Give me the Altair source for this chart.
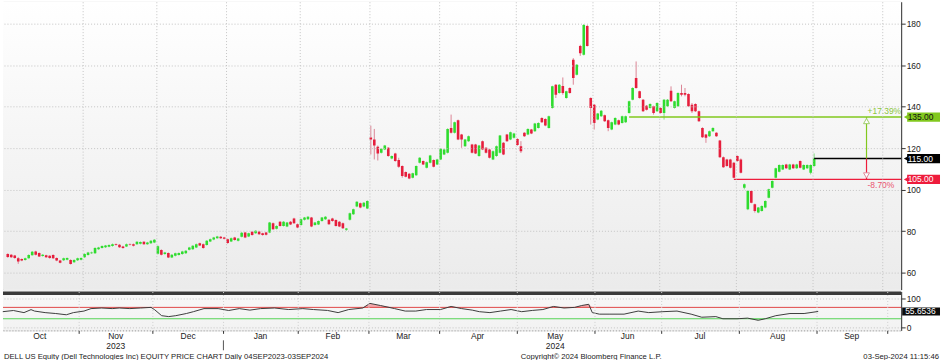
import altair as alt
import pandas as pd

# ---------------- data ----------------
open_ = [69.0, 68.7, 68.3, 67.0, 66.6, 66.2, 67.0, 68.5, 70.3, 69.5,
         68.1, 68.4, 68.2, 68.6, 67.1, 65.9, 66.0, 66.3, 66.2, 65.1,
         66.0, 66.3, 67.5, 68.6, 69.4, 69.4, 71.4, 72.0, 72.3, 72.6,
         72.9, 73.8, 73.5, 72.7, 72.7, 73.8, 73.8, 73.8, 74.0, 74.9,
         73.8, 74.2, 74.6, 69.2, 71.0, 69.0, 69.5, 67.4, 68.2, 68.6,
         69.0, 69.4, 71.1, 71.4, 72.2, 74.2, 73.8, 73.4, 75.1, 76.0,
         76.7, 77.4, 77.0, 76.2, 75.1, 77.0, 75.4, 77.4, 79.4, 77.5,
         79.8, 79.1, 79.9, 79.0, 79.4, 79.4, 83.9, 81.2, 84.6, 82.6,
         82.3, 84.6, 86.2, 83.4, 83.0, 85.5, 85.8, 86.6, 83.0, 83.3,
         84.9, 85.8, 85.5, 86.2, 85.4, 84.6, 83.9, 80.7, 85.5, 88.2,
         91.9, 93.5, 91.9, 91.0, 125.2, 124.2, 120.7, 117.8, 119.4, 120.2,
         115.0, 117.5, 114.3, 111.4, 108.5, 107.7, 105.8, 107.0, 113.0, 113.8,
         110.6, 113.0, 114.3, 112.2, 114.6, 117.0, 117.8, 129.8, 127.4, 133.5,
         126.6, 121.0, 123.4, 121.8, 121.8, 116.2, 123.4, 120.2, 119.4, 114.6,
         116.2, 117.8, 122.6, 126.6, 124.2, 125.0, 124.5, 121.0, 127.4, 126.6,
         129.0, 128.2, 129.8, 134.6, 134.1, 129.8, 139.4, 150.6, 146.6, 150.0,
         144.2, 149.0, 162.6, 155.4, 169.3, 165.0, 178.9, 144.2, 141.0, 133.8,
         135.4, 135.9, 133.5, 129.0, 131.4, 133.5, 132.2, 132.5, 137.0, 143.4,
         153.8, 147.4, 143.4, 140.5, 139.4, 140.2, 137.8, 139.4, 137.0, 140.2,
         147.7, 139.4, 140.2, 146.6, 146.6, 146.1, 141.0, 141.3, 137.8, 129.8,
         126.6, 125.8, 128.2, 127.4, 123.7, 115.7, 114.6, 114.6, 113.0, 116.2,
         114.6, 101.0, 90.6, 99.4, 93.0, 89.0, 89.8, 91.4, 96.2, 101.0,
         105.8, 108.7, 109.8, 112.2, 109.8, 112.2, 110.3, 113.8, 109.8, 110.3,
         108.2, 111.4]
close = [67.6, 67.5, 67.1, 65.5, 65.9, 67.0, 68.6, 70.2, 68.7, 67.9,
         68.7, 67.5, 67.1, 67.0, 65.9, 64.9, 67.0, 67.1, 64.3, 66.2,
         67.0, 67.1, 69.1, 69.8, 69.8, 72.0, 72.2, 72.9, 73.1, 73.4,
         73.8, 73.4, 72.3, 71.9, 73.8, 73.5, 73.0, 74.9, 74.8, 73.8,
         74.6, 75.4, 75.9, 72.8, 68.7, 69.8, 67.4, 68.7, 69.4, 69.5,
         70.3, 70.6, 72.2, 73.0, 73.8, 73.2, 71.9, 75.4, 76.2, 77.0,
         77.5, 76.6, 76.4, 74.3, 76.7, 75.8, 76.5, 79.3, 77.0, 79.0,
         78.2, 80.2, 78.6, 78.2, 78.3, 84.2, 81.0, 82.6, 82.6, 84.6,
         84.2, 83.3, 83.9, 81.8, 85.8, 86.6, 87.0, 82.3, 84.2, 84.9,
         86.6, 87.0, 83.4, 84.9, 82.6, 82.3, 81.4, 81.3, 88.7, 90.6,
         94.2, 91.4, 93.8, 94.6, 124.2, 121.3, 117.5, 119.7, 121.3, 116.2,
         116.2, 113.8, 111.1, 106.6, 106.3, 105.4, 107.9, 111.4, 115.4, 112.2,
         113.3, 116.5, 111.1, 114.6, 119.7, 119.4, 129.3, 127.4, 132.5, 124.2,
         124.2, 124.2, 125.8, 117.8, 117.5, 121.3, 119.4, 117.8, 115.4, 118.6,
         121.0, 126.1, 117.0, 123.4, 127.7, 127.1, 121.5, 118.5, 125.8, 129.3,
         127.1, 131.9, 132.2, 132.5, 130.9, 135.4, 149.8, 145.8, 150.6, 146.6,
         147.4, 146.6, 153.8, 160.2, 165.8, 179.4, 169.3, 139.4, 132.2, 136.7,
         138.1, 133.0, 129.8, 132.5, 134.6, 131.4, 135.4, 135.4, 142.6, 149.0,
         149.0, 144.2, 137.8, 138.5, 141.3, 137.0, 141.8, 137.0, 143.4, 143.4,
         142.6, 142.6, 146.6, 145.8, 145.8, 140.2, 137.8, 137.8, 133.0, 125.3,
         125.0, 128.2, 129.8, 125.8, 115.7, 110.9, 111.4, 110.6, 105.8, 113.8,
         108.2, 102.6, 99.4, 93.8, 89.8, 91.4, 92.2, 94.6, 100.2, 104.2,
         110.3, 111.9, 111.9, 110.3, 112.2, 110.3, 112.2, 110.6, 111.9, 111.9,
         111.9, 115.0]
high = [69.4, 69.0, 68.6, 67.5, 66.9, 67.3, 68.9, 70.5, 70.6, 69.8,
        69.0, 68.7, 68.5, 68.9, 67.4, 66.2, 67.3, 67.4, 66.5, 66.5,
        67.3, 67.4, 69.4, 70.1, 70.2, 72.3, 72.5, 73.2, 73.4, 73.7,
        74.1, 74.1, 73.8, 73.0, 74.1, 74.1, 74.1, 75.2, 75.1, 75.2,
        74.9, 75.7, 76.2, 73.2, 71.3, 70.1, 69.8, 69.0, 69.7, 69.8,
        70.6, 70.9, 72.5, 73.3, 74.1, 74.5, 74.1, 75.7, 76.5, 77.3,
        77.8, 77.7, 77.3, 76.5, 77.0, 77.3, 76.8, 79.6, 79.7, 79.3,
        80.1, 80.5, 80.2, 79.3, 79.7, 84.5, 84.2, 82.9, 84.9, 84.9,
        84.5, 84.9, 86.5, 83.7, 86.1, 86.9, 87.3, 86.9, 84.5, 85.2,
        86.9, 87.3, 85.8, 86.5, 85.7, 84.9, 84.2, 81.6, 89.0, 90.9,
        94.5, 93.8, 94.1, 94.9, 130.9, 129.3, 121.3, 120.0, 121.6, 120.5,
        116.5, 117.8, 115.4, 111.7, 108.8, 108.0, 108.2, 111.7, 115.7, 114.1,
        113.6, 116.8, 114.6, 114.9, 120.0, 119.7, 129.6, 136.2, 132.8, 133.8,
        126.9, 124.5, 126.1, 122.1, 122.1, 121.6, 123.7, 120.5, 119.7, 118.9,
        121.3, 126.4, 122.9, 126.9, 128.0, 127.4, 124.8, 123.4, 127.7, 129.6,
        129.3, 132.2, 132.5, 134.9, 134.4, 135.7, 150.1, 150.9, 150.9, 154.1,
        147.7, 149.3, 163.4, 160.5, 169.8, 179.8, 179.4, 144.5, 141.3, 137.0,
        138.4, 136.2, 133.8, 132.8, 134.9, 133.8, 135.7, 135.7, 142.9, 149.3,
        161.8, 147.7, 143.7, 140.8, 141.6, 140.5, 142.1, 139.7, 143.7, 143.7,
        149.8, 142.9, 146.9, 150.6, 149.0, 146.4, 141.8, 141.6, 138.1, 130.1,
        126.9, 128.5, 130.1, 127.7, 124.0, 116.0, 114.9, 114.9, 113.3, 116.5,
        115.1, 103.0, 99.8, 99.7, 93.3, 91.7, 92.5, 94.9, 100.5, 104.5,
        110.6, 112.2, 112.2, 112.5, 112.5, 112.5, 112.5, 114.1, 112.2, 112.2,
        112.2, 117.5]
low = [67.2, 67.2, 66.8, 64.3, 65.6, 65.9, 66.8, 68.3, 68.4, 67.6,
       67.8, 67.2, 66.8, 66.7, 65.6, 64.6, 65.7, 66.0, 64.0, 64.8,
       65.7, 66.0, 67.2, 68.3, 69.1, 69.1, 71.1, 71.7, 72.0, 72.3,
       72.6, 73.1, 72.0, 71.6, 72.4, 73.2, 72.7, 73.5, 73.7, 73.5,
       73.5, 73.9, 74.3, 68.8, 68.4, 68.7, 67.1, 67.1, 67.9, 68.3,
       68.7, 69.1, 70.8, 71.1, 71.9, 72.9, 71.6, 73.1, 74.8, 75.7,
       76.4, 76.3, 76.1, 74.0, 74.8, 75.5, 75.1, 77.1, 76.7, 77.2,
       77.9, 78.8, 78.3, 77.9, 78.0, 79.1, 80.7, 80.9, 82.3, 82.3,
       82.0, 83.0, 83.6, 81.5, 82.7, 85.2, 85.5, 82.0, 82.7, 83.0,
       84.6, 85.5, 83.1, 84.6, 82.3, 82.0, 81.1, 80.2, 85.2, 87.9,
       91.6, 91.1, 91.6, 90.7, 117.0, 114.6, 114.1, 117.5, 119.1, 115.9,
       114.7, 113.5, 110.6, 105.8, 106.0, 105.1, 105.5, 106.7, 112.7, 111.9,
       110.3, 112.7, 110.8, 111.9, 114.3, 116.7, 117.5, 127.1, 127.1, 123.9,
       120.2, 120.7, 123.1, 117.5, 117.2, 115.9, 119.1, 117.5, 115.1, 114.3,
       115.9, 117.5, 116.7, 123.1, 123.9, 124.7, 121.2, 117.7, 125.5, 126.3,
       126.8, 127.9, 129.5, 132.2, 130.6, 129.5, 139.1, 144.2, 146.3, 145.8,
       143.9, 146.3, 150.6, 155.1, 164.5, 164.7, 169.0, 131.4, 129.0, 133.5,
       135.1, 132.7, 128.2, 128.7, 131.1, 131.1, 131.9, 132.2, 136.7, 143.1,
       148.7, 143.9, 137.5, 138.2, 139.1, 136.2, 137.5, 136.7, 133.8, 139.9,
       142.3, 139.1, 139.9, 145.0, 145.0, 139.9, 137.0, 137.5, 132.7, 125.0,
       122.6, 125.5, 127.9, 125.5, 115.4, 110.6, 111.1, 110.3, 105.5, 113.5,
       107.9, 100.2, 90.2, 93.5, 89.0, 88.7, 89.5, 91.1, 95.9, 100.7,
       105.5, 108.4, 109.5, 110.0, 109.5, 110.0, 110.0, 110.3, 109.5, 110.0,
       107.4, 111.1]

rsi_day = [0, 3, 6, 8, 9, 12, 15, 18, 20, 23, 25, 28, 31, 33, 36, 39, 42, 43,
           45, 47, 49, 52, 54, 57, 61, 64, 67, 70, 73, 77, 81, 85, 88, 92, 95,
           98, 102, 104, 107, 111, 114, 117, 120, 124, 127, 130, 133, 135, 138,
           141, 144, 147, 150, 153, 156, 159, 162, 164, 166, 167, 169, 172, 176,
           180, 183, 187, 191, 195, 198, 202, 204, 208, 211, 214, 216, 219, 223,
           227, 231]
rsi_val = [54.9, 59.0, 51.6, 62.0, 57.0, 51.6, 48.4, 44.0, 51.6, 57.0, 65.7,
           67.8, 65.7, 67.8, 65.7, 67.8, 70.0, 62.0, 40.8, 37.6, 40.8, 48.4,
           54.9, 65.7, 65.7, 59.0, 65.7, 60.3, 65.7, 67.8, 62.4, 65.7, 62.4,
           59.2, 51.6, 62.4, 67.8, 84.0, 76.5, 65.7, 57.0, 57.0, 62.4, 62.4,
           73.2, 65.7, 60.3, 54.9, 51.6, 57.0, 62.4, 54.9, 59.2, 62.4, 73.2,
           67.8, 70.0, 76.5, 80.8, 51.6, 46.2, 46.2, 46.2, 57.0, 51.6, 54.9,
           57.0, 46.2, 35.4, 37.6, 30.0, 30.0, 32.2, 24.6, 30.0, 40.8, 48.4,
           48.4, 55.6536]

month_names = ["Oct", "Nov", "Dec", "Jan", "Feb", "Mar", "Apr", "May", "Jun", "Jul", "Aug", "Sep"]
month_first_day = [0, 22, 43, 63, 84, 104, 124, 146, 168, 187, 209, 231]
month_days = [22, 21, 20, 21, 20, 20, 22, 22, 19, 22, 22, 20]
year_names = ["2023", "2024"]
year_months = ["Nov", "May"]
price_ticks = [60, 80, 100, 120, 140, 160, 180]
rsi_ticks = [0, 100]
rsi_bands = [70, 30]

level_values = [135.0, 115.0, 105.0]
level_labels = ["135.00", "115.00", "105.00"]
level_kinds = ["up", "last", "down"]
level_start_day = [178, 231, 208]
pct_labels = ["+17.39%", "-8.70%"]
arrow_day = 246
last_rsi = 55.6536
last_rsi_label = "55.6536"

footer_left = "DELL US Equity (Dell Technologies Inc) EQUITY PRICE CHART  Daily 04SEP2023-03SEP2024"
footer_mid = "Copyright\u00a9 2024 Bloomberg Finance L.P."
footer_right = "03-Sep-2024 11:15:46"

# ---------------- tables ----------------
candles = pd.DataFrame({"day": list(range(len(close))), "open": open_, "high": high,
                        "low": low, "close": close})
months = pd.DataFrame({"name": month_names, "first": month_first_day, "days": month_days})
months["mid"] = months["first"] + (months["days"] - 1) / 2.0
edges = [f - 0.5 for f in month_first_day[1:]] + [month_first_day[-1] + month_days[-1] - 0.5]
years = months[months["name"].isin(year_months)].copy()
years["year"] = year_names
jan_edge = month_first_day[month_names.index("Jan")] - 0.5
levels = pd.DataFrame({"value": level_values, "label": level_labels,
                       "kind": level_kinds, "start": level_start_day})
levels["top"] = levels["value"] + 2.2
levels["bot"] = levels["value"] - 2.2
rsi_df = pd.DataFrame({"day": rsi_day, "rsi": rsi_val})

# ---------------- styling ----------------
W, H1, H2 = 902, 289, 39
FONT = "Liberation Sans"
UP, DN = "#2fdc2f", "#e61e3c"
UPW, DNW = "#86de86", "#dc8595"
xs = alt.Scale(domain=[0.0564, 254.5], nice=False, zero=False)
ys = alt.Scale(domain=[51.94, 190.55], nice=False, zero=False)
rys = alt.Scale(domain=[-10.8, 125.7], nice=False, zero=False)
lvl_color = alt.Scale(domain=["up", "last", "down"], range=["#82c81e", "#000000", "#ee1c3c"])

one = pd.DataFrame({"k": [0]})


def bg_rect(h, top, bottom):
    return alt.Chart(one).mark_rect(
        color=alt.Gradient(gradient="linear",
                           stops=[alt.GradientStop(color=top, offset=0),
                                  alt.GradientStop(color=bottom, offset=1)],
                           x1=0, x2=0, y1=0, y2=1)
    ).encode(x=alt.value(0), x2=alt.value(W), y=alt.value(0), y2=alt.value(h))


x_axis_price = alt.Axis(values=edges, grid=True, gridDash=[1, 2], gridColor="#c4c4c4",
                        labels=False, ticks=False, domain=False, title=None, zindex=1)
y_axis_price = alt.Axis(orient="right", values=price_ticks, grid=True, gridDash=[1, 2],
                        gridColor="#c4c4c4", tickSize=4, tickColor="#333333",
                        domainColor="#333333", labelFont=FONT, labelFontSize=8.5,
                        labelColor="#222222", labelPadding=1, title=None, zindex=1)

cond = "datum.close >= datum.open"
wicks = alt.Chart(candles).mark_rule(strokeWidth=1, clip=True).encode(
    x=alt.X("day:Q", scale=xs, axis=x_axis_price),
    y=alt.Y("low:Q", scale=ys, axis=y_axis_price),
    y2="high:Q",
    color=alt.condition(cond, alt.value(UPW), alt.value(DNW)),
)
bodies = alt.Chart(candles).mark_bar(size=2.6, clip=True).encode(
    x="day:Q", y="open:Q", y2="close:Q",
    color=alt.condition(cond, alt.value(UP), alt.value(DN)),
)
level_lines = alt.Chart(levels).mark_rule(strokeWidth=1.5).encode(
    x="start:Q", x2=alt.value(W), y="value:Q",
    color=alt.Color("kind:N", scale=lvl_color, legend=None),
)
level_boxes = alt.Chart(levels).mark_rect().encode(
    x=alt.value(W + 6), x2=alt.value(W + 39), y="top:Q", y2="bot:Q",
    color=alt.Color("kind:N", scale=lvl_color, legend=None),
)
level_ptr = alt.Chart(levels).mark_point(shape="triangle-left", filled=True, size=28, opacity=1).encode(
    x=alt.value(W + 5), y="value:Q",
    color=alt.Color("kind:N", scale=lvl_color, legend=None),
)
level_text = alt.Chart(levels).mark_text(align="left", baseline="middle", font=FONT,
                                         fontSize=8.5).encode(
    x=alt.value(W + 6.5), y="value:Q", text="label:N",
    color=alt.condition(alt.datum.kind == "up", alt.value("#111111"), alt.value("#ffffff")),
)

arrow = pd.DataFrame({"day": [arrow_day, arrow_day], "from": [level_values[1]] * 2,
                      "to": [level_values[0], level_values[2]], "dir": ["up", "down"],
                      "pct": pct_labels})
arr_col = alt.Scale(domain=["up", "down"], range=["#b2d98a", "#e6a1ae"])
arrow_line = alt.Chart(arrow).mark_rule(strokeWidth=1.2).encode(
    x="day:Q", y="from:Q", y2="to:Q",
    color=alt.Color("dir:N", scale=arr_col, legend=None))
arrow_up = alt.Chart(arrow[arrow["dir"] == "up"]).mark_point(
    shape="triangle-up", filled=True, fill="#ffffff", stroke="#9fce6c", strokeWidth=1,
    size=36, yOffset=4, opacity=1).encode(x="day:Q", y="to:Q")
arrow_dn = alt.Chart(arrow[arrow["dir"] == "down"]).mark_point(
    shape="triangle-down", filled=True, fill="#ffffff", stroke="#e08a9a", strokeWidth=1,
    size=36, yOffset=-4, opacity=1).encode(x="day:Q", y="to:Q")
pct_up = alt.Chart(arrow[arrow["dir"] == "up"]).mark_text(
    align="left", baseline="bottom", font=FONT, fontSize=8.5, color="#8dc63f", dx=1, dy=-1
).encode(x="day:Q", y="to:Q", text="pct:N")
pct_dn = alt.Chart(arrow[arrow["dir"] == "down"]).mark_text(
    align="left", baseline="top", font=FONT, fontSize=8.5, color="#ea5470", dx=1, dy=2
).encode(x="day:Q", y="to:Q", text="pct:N")

price = alt.layer(
    bg_rect(H1, "#ffffff", "#ebebeb"), wicks, bodies, level_lines, arrow_line, arrow_up, arrow_dn,
    pct_up, pct_dn, level_boxes, level_ptr, level_text
).properties(width=W, height=H1)

# ---------------- RSI panel ----------------
x_axis_rsi = alt.Axis(values=edges, grid=True, gridDash=[1, 2], gridColor="#cfcfcf",
                      labels=False, ticks=True, tickSize=3, tickColor="#333333",
                      domain=True, domainDash=[1, 2], domainColor="#9a9a9a",
                      title=None, zindex=1)
y_axis_rsi = alt.Axis(orient="right", values=rsi_ticks, grid=True, gridDash=[1, 2],
                      gridColor="#c4c4c4", tickSize=4, tickColor="#333333",
                      domainColor="#333333", labelFont=FONT, labelFontSize=8.5,
                      labelColor="#222222", labelPadding=1, title=None, zindex=1)

rsi_bg = bg_rect(H2, "#f8f8f8", "#f2f2f2")
sep = alt.Chart(one).mark_rule(strokeWidth=3.5, color="#3a3a3a").encode(
    x=alt.value(0), x2=alt.value(W), y=alt.value(1.75))
ob_fill = alt.Chart(rsi_df).transform_calculate(hi="max(datum.rsi, 70)").mark_area(
    color="#f3a9ad").encode(
    x=alt.X("day:Q", scale=xs, axis=x_axis_rsi),
    y=alt.Y("hi:Q", scale=rys, axis=y_axis_rsi), y2=alt.datum(70))
os_fill = alt.Chart(rsi_df).transform_calculate(lo="min(datum.rsi, 30)").mark_area(
    color="#a6e6a6").encode(x="day:Q", y="lo:Q", y2=alt.datum(30))
bands = alt.Chart(pd.DataFrame({"v": rsi_bands})).mark_rule(strokeWidth=1).encode(
    x=alt.value(0), x2=alt.value(W), y="v:Q",
    color=alt.condition(alt.datum.v > 50, alt.value("#e04848"), alt.value("#55d455")))
rsi_line = alt.Chart(rsi_df).mark_line(color="#3c3c3c", strokeWidth=1).encode(
    x="day:Q", y="rsi:Q")
rsi_box = alt.Chart(pd.DataFrame({"v": [last_rsi], "t": [last_rsi_label]}))
rsi_box_rect = rsi_box.transform_calculate(a="datum.v + 14", b="datum.v - 14").mark_rect(
    color="#0b0b0b").encode(x=alt.value(W + 1), x2=alt.value(W + 39), y="a:Q", y2="b:Q")
rsi_box_text = rsi_box.mark_text(align="left", baseline="middle", font=FONT, fontSize=8.5,
                                 color="#ffffff").encode(x=alt.value(W + 4), y="v:Q", text="t:N")

month_text = alt.Chart(months).mark_text(baseline="middle", font=FONT, fontSize=8.5,
                                         color="#222222").encode(
    x="mid:Q", y=alt.value(H2 + 6), text="name:N")
year_text = alt.Chart(years).mark_text(baseline="middle", font=FONT, fontSize=8.5,
                                       color="#222222").encode(
    x="mid:Q", y=alt.value(H2 + 15.5), text="year:N")
year_sep = alt.Chart(pd.DataFrame({"d": [jan_edge]})).mark_rule(color="#555555").encode(
    x="d:Q", y=alt.value(H2 + 10), y2=alt.value(H2 + 20))
f_left = alt.Chart(pd.DataFrame({"t": [footer_left]})).mark_text(
    align="left", baseline="middle", font=FONT, fontSize=7.7, color="#222222").encode(
    x=alt.value(1), y=alt.value(H2 + 26.5), text="t:N")
f_mid = alt.Chart(pd.DataFrame({"t": [footer_mid]})).mark_text(
    align="left", baseline="middle", font=FONT, fontSize=7.7, color="#222222").encode(
    x=alt.value(520), y=alt.value(H2 + 26.5), text="t:N")
f_right = alt.Chart(pd.DataFrame({"t": [footer_right]})).mark_text(
    align="right", baseline="middle", font=FONT, fontSize=7.7, color="#222222").encode(
    x=alt.value(940), y=alt.value(H2 + 26.5), text="t:N")

rsi = alt.layer(
    rsi_bg, ob_fill, os_fill, bands, rsi_line, sep, rsi_box_rect, rsi_box_text,
    month_text, year_text, year_sep, f_left, f_mid, f_right
).properties(width=W, height=H2)

chart = alt.vconcat(price, rsi, spacing=0).resolve_scale(
    x="independent", y="independent", color="independent"
).properties(padding={"left": 0, "top": 0, "right": 0, "bottom": 0}).configure_view(
    stroke=None
).configure(background="#ffffff")

chart.save("out.html", embed_options={"renderer": "svg", "actions": False})
